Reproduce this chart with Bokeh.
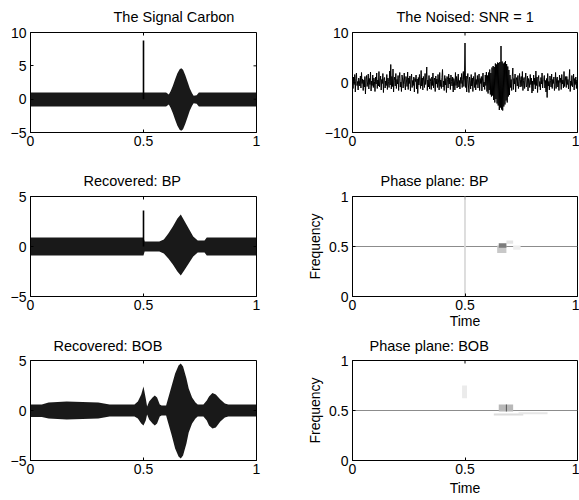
import numpy as np
from bokeh.plotting import figure
from bokeh.models import FixedTicker, Range1d
from bokeh.layouts import column, row
from bokeh.embed import file_html
from bokeh.resources import INLINE

FONT = "Liberation Sans"

# ---------------- data ----------------
x_ticks = [0, 0.5, 1]

# Panel 1: The Signal Carbon (envelope of the dense oscillation)
carbon_t = [0, 0.60, 0.612, 0.62, 0.63, 0.64, 0.65, 0.66, 0.667, 0.675, 0.685, 0.695, 0.705, 0.715, 0.722, 0.735, 0.745, 1]
carbon_hi = [1.0, 1.0, 0.7, 1.2, 2.0, 3.0, 3.9, 4.5, 4.65, 4.4, 3.6, 2.6, 1.6, 0.9, 0.5, 0.6, 1.0, 1.0]
carbon_lo = [-1.1, -1.1, -0.8, -1.3, -2.1, -3.1, -4.0, -4.6, -4.75, -4.5, -3.7, -2.7, -1.7, -1.0, -0.6, -0.7, -1.1, -1.1]
carbon_spike_t = [0.5]
carbon_spike_v = [8.8]

# Panel 2: The Noised signal (sampled every 0.0025)
noised = [
    0.3, -1.2, 1.1, -0.4, 1.6, -1.9, 0.8, 1.9, -0.6, 0.2,
    -1.5, 0.9, 0.4, -0.7, 1.3, -1.1, 2.0, -0.2, 0.7, -1.6,
    0.5, -0.9, 1.2, -2.3, 0.6, 1.4, -0.8, 0.1, 1.7, -1.3,
    0.8, -0.4, 2.1, -1.7, 0.3, -0.6, 1.5, -1.0, 0.9, 0.2,
    -1.8, 1.1, -0.3, 1.9, -1.2, 0.5, -0.7, 2.2, -0.9, 0.4,
    1.3, -1.5, 0.6, -0.2, 1.8, -2.0, 0.7, 1.0, -1.1, 0.3,
    -0.6, 1.6, -1.4, 0.9, 0.2, -1.0, 2.3, -0.5, 3.6, -1.3,
    1.2, -0.8, 2.7, -1.9, 0.4, 1.1, -0.7, 1.8, -1.2, 0.6,
    -0.3, 1.4, -1.6, 0.8, 2.0, -0.9, 0.1, -1.8, 1.5, 0.7,
    -1.1, 0.5, 1.9, -0.4, -1.5, 1.2, 0.3, -0.8, 2.1, -1.4,
    0.9, -0.2, 1.3, -1.7, 0.6, 1.7, -1.0, 0.4, -0.6, 1.1,
    -1.9, 0.8, 0.2, 1.5, -1.3, 0.7, -2.2, 1.0, -0.5, 1.6,
    0.1, -1.2, 2.4, -0.7, 0.9, -1.5, 1.2, 0.3, -1.0, 1.8,
    -0.4, 0.6, 3.1, -1.6, 0.5, -0.9, 1.4, -1.3, 0.8, 0.2,
    -1.4, 1.1, -0.6, 1.9, -1.1, 0.4, 0.9, -1.8, 1.3, -0.3,
    0.7, -1.0, 1.6, 0.1, -1.5, 2.0, -0.8, 0.5, -1.2, 1.0,
    2.6, -0.9, 0.3, -1.6, 1.4, -0.5, 0.8, -2.0, 1.2, 0.6,
    -1.1, 1.7, -0.3, 0.9, -1.4, 1.5, 0.2, -0.7, 1.1, -1.9,
    0.8, 0.3, -1.5, 2.0, -0.6, 1.2, -1.1, 0.5, 1.7, -0.9,
    0.4, -1.3, 1.0, -0.2, 1.8, -1.0, 0.6, 2.2, -0.8, 0.9,
    7.9, -1.0, 1.3, -1.9, 0.6, 1.8, -0.5, -2.0, 1.1, 0.4,
    -1.3, 1.6, -0.7, 0.9, -1.8, 1.2, 0.2, -1.0, 2.0, -1.5,
    0.6, -0.4, 1.4, -1.1, 0.3, 1.7, -1.6, 0.8, -0.2, 1.2,
    -1.7, 0.5, 1.9, -0.9, 0.1, -1.4, 1.5, -0.6, 2.1, -1.8,
    1.4, -2.2, 2.0, -1.5, 2.6, -2.4, 1.9, -2.8, 3.0, -2.6,
    3.3, -3.5, 3.1, -4.0, 3.8, -3.3, 3.6, -4.2, 4.0, -4.6,
    3.9, -5.5, 4.1, -5.0, 7.3, -5.4, 4.2, -5.6, 3.8, -4.8,
    4.0, -4.4, 4.3, -3.6, 3.7, -4.0, 3.2, -2.8, 2.5, -2.5,
    1.5, -1.0, 0.6, -1.6, 1.2, 2.9, -1.4, 0.8, -0.3, 1.7,
    -1.9, 0.5, 1.0, -0.7, 1.4, -1.2, 0.2, 1.8, -0.9, 0.6,
    1.2, -0.8, 2.2, -1.6, 0.4, 1.0, -1.2, 0.7, 1.9, -0.9,
    -0.5, 1.3, -1.7, 0.8, 0.3, -1.0, 1.6, -0.4, 0.9, -2.1,
    0.3, -1.7, 1.5, -0.4, 0.9, -1.3, 2.3, -0.6, 1.1, -2.0,
    0.7, 1.4, -0.8, 0.2, -1.5, 1.0, -0.3, 1.9, -1.1, 0.5,
    0.6, 1.4, -1.1, 0.4, -1.9, 0.8, -3.0, 1.8, -0.7, 0.2,
    -1.5, 1.3, 0.4, -0.9, 1.7, -1.2, 0.6, -0.2, 1.1, -1.6,
    -0.5, 2.0, -1.2, 0.7, 1.1, -0.9, 0.4, -1.6, 1.5, 0.0,
    0.9, -1.4, 1.6, -0.3, 0.5, -1.1, 2.2, -0.8, 0.3, 1.2,
    -1.0, 1.2, -0.4, 0.6, -1.3, 0.5, 2.6, -1.8, 0.3, -0.6,
    1.4, -0.9, 0.2, 1.7, -1.5, 0.8, -0.4, 1.1, -1.2, 0.5,
    -0.9,
]
noised_t = np.linspace(0, 1, len(noised))

# Panel 3: Recovered BP (envelope)
bp_t = [0, 0.5, 0.505, 0.57, 0.59, 0.61, 0.63, 0.65, 0.665, 0.68, 0.70, 0.72, 0.74, 0.77, 0.78, 1]
bp_hi = [0.9, 0.9, 0.5, 0.5, 0.7, 1.3, 2.0, 2.8, 3.2, 2.6, 1.8, 1.0, 0.6, 0.6, 0.9, 0.9]
bp_lo = [-0.9, -0.9, -0.5, -0.5, -0.7, -1.2, -1.8, -2.5, -2.9, -2.4, -1.7, -1.0, -0.6, -0.6, -0.9, -0.9]
bp_spike_t = [0.5]
bp_spike_v = [3.6]

# Panel 5: Recovered BOB (envelope)
bob_t = [0, 0.05, 0.08, 0.16, 0.30, 0.35, 0.46, 0.475, 0.49, 0.50, 0.51, 0.516, 0.525, 0.54, 0.55, 0.56,
         0.572, 0.58, 0.60, 0.61, 0.625, 0.64, 0.655, 0.665, 0.675, 0.69, 0.70, 0.715, 0.73, 0.74, 0.765,
         0.78, 0.79, 0.805, 0.82, 0.84, 0.86, 0.875, 1]
bob_hi = [0.6, 0.6, 0.8, 0.9, 0.8, 0.6, 0.6, 0.9, 1.6, 2.4, 1.2, 0.4, 0.9, 1.3, 1.5, 1.3,
          0.6, 0.5, 0.5, 1.3, 2.5, 3.7, 4.5, 4.7, 4.4, 3.2, 2.2, 1.3, 0.8, 0.6, 0.6,
          1.0, 1.4, 1.75, 1.6, 1.1, 0.7, 0.6, 0.6]
bob_lo = [-0.65, -0.65, -0.8, -0.9, -0.8, -0.6, -0.6, -0.8, -1.3, -1.5, -1.0, -0.4, -0.9, -1.3, -1.5, -1.3,
          -0.6, -0.5, -0.5, -1.3, -2.5, -3.8, -4.6, -4.8, -4.5, -3.3, -2.2, -1.3, -0.8, -0.6, -0.6,
          -1.0, -1.5, -1.8, -1.7, -1.1, -0.7, -0.6, -0.6]

# Panel 4: Phase plane BP (tiles)
pp_bp_t0 = [0.643, 0.684, 0.714, 0.650]
pp_bp_t1 = [0.684, 0.714, 0.747, 0.684]
pp_bp_f0 = [0.435, 0.527, 0.467, 0.487]
pp_bp_f1 = [0.510, 0.560, 0.510, 0.533]
pp_bp_col = ["#c8c8c8", "#e4e4e4", "#eeeeee", "#7c7c7c"]

# Panel 6: Phase plane BOB (tiles)
pp_bob_t0 = [0.487, 0.650]
pp_bob_t1 = [0.509, 0.714]
pp_bob_f0 = [0.623, 0.490]
pp_bob_f1 = [0.750, 0.560]
pp_bob_col = ["#ebebeb", "#b8b8b8"]
pp_bob_line_t0 = [0.628, 0.738]
pp_bob_line_t1 = [0.759, 0.867]
pp_bob_line_f = [0.460, 0.473]
pp_bob_line_col = ["#dcdcdc", "#e6e6e6"]
pp_bob_vt = [0.684]
pp_bob_vf0 = [0.490]
pp_bob_vf1 = [0.560]

MINUS = "\u2212"


def make_fig(w, h, ml, mr, mt, mb, yr, yticks, title, toff, xlabel=None, ylabel=None,
             title_standoff=12, xlabel_standoff=0):
    p = figure(width=w, height=h, x_range=Range1d(0, 1), y_range=Range1d(*yr),
               toolbar_location=None, output_backend="svg",
               min_border_left=ml, min_border_right=mr,
               min_border_top=mt, min_border_bottom=mb, title=title)
    p.grid.visible = False
    p.background_fill_color = "white"
    p.border_fill_color = "white"
    p.outline_line_color = "black"
    p.outline_line_alpha = 1
    p.title.text_font = FONT
    p.title.text_font_size = "14.5px"
    p.title.text_font_style = "normal"
    p.title.text_color = "black"
    p.title.align = "left"
    p.title.vertical_align = "top"
    p.title.offset = toff
    p.title.standoff = title_standoff

    overrides = {t: (MINUS + ("%g" % abs(t)) if t < 0 else ("%g" % t)) for t in yticks}
    for ax, ticks, ov in ((p.xaxis[0], x_ticks, {0: "0", 0.5: "0.5", 1: "1"}), (p.yaxis[0], yticks, overrides)):
        ax.ticker = FixedTicker(ticks=ticks)
        ax.major_label_overrides = ov
        ax.major_tick_in = 3
        ax.major_tick_out = 0
        ax.minor_tick_in = 0
        ax.minor_tick_out = 0
        ax.axis_line_color = "black"
        ax.major_tick_line_color = "black"
        ax.major_label_text_font = FONT
        ax.major_label_text_font_size = "14px"
        ax.major_label_text_color = "black"
        ax.axis_label_text_font = FONT
        ax.axis_label_text_font_size = "14px"
        ax.axis_label_text_font_style = "normal"
        ax.axis_label_text_color = "black"
        ax.axis_label_standoff = 3
    p.xaxis[0].axis_label_standoff = xlabel_standoff
    p.xaxis[0].major_label_standoff = 3
    p.yaxis[0].major_label_standoff = 4
    if xlabel:
        p.xaxis[0].axis_label = xlabel
    if ylabel:
        p.yaxis[0].axis_label = ylabel

    # inward ticks on the top and right edges of the box
    p.ray(x=x_ticks, y=[yr[1]] * len(x_ticks), length=3, length_units="screen",
          angle=-np.pi / 2, line_color="black", line_width=1)
    p.ray(x=[1] * len(yticks), y=yticks, length=3, length_units="screen",
          angle=np.pi, line_color="black", line_width=1)
    return p


LW, RW = 276, 303
LML, LMR = 30, 20
RML, RMR = 76, 2
BAND_ALPHA = 0.9

# Row 1
p1 = make_fig(LW, 164, LML, LMR, 32, 32, (-5, 10), [-5, 0, 5, 10], "The Signal Carbon", 83)
p1.varea(x=carbon_t, y1=carbon_lo, y2=carbon_hi, fill_color="black", fill_alpha=BAND_ALPHA)
p1.segment(x0=carbon_spike_t, y0=[0] * len(carbon_spike_t), x1=carbon_spike_t, y1=carbon_spike_v,
           line_color="black", line_width=1.6)

p2 = make_fig(RW, 164, RML, RMR, 32, 32, (-10, 10), [-10, 0, 10], "The Noised: SNR = 1", 44)
p2.line(noised_t, noised, line_color="black", line_width=1)

# Row 2
p3 = make_fig(LW, 168, LML, LMR, 32, 36, (-5, 5), [-5, 0, 5], "Recovered: BP", 53)
p3.varea(x=bp_t, y1=bp_lo, y2=bp_hi, fill_color="black", fill_alpha=BAND_ALPHA)
p3.segment(x0=bp_spike_t, y0=[0] * len(bp_spike_t), x1=bp_spike_t, y1=bp_spike_v,
           line_color="black", line_width=1.6)

p4 = make_fig(RW, 168, RML, RMR, 32, 36, (0, 1), [0, 0.5, 1], "Phase plane: BP", 28,
              xlabel="Time", ylabel="Frequency")
p4.segment(x0=[0], y0=[0.5], x1=[1], y1=[0.5], line_color="#8c8c8c", line_width=1)
p4.segment(x0=[0.5], y0=[0], x1=[0.5], y1=[1], line_color="#d8d8d8", line_width=1.7)
p4.quad(left=pp_bp_t0, right=pp_bp_t1, bottom=pp_bp_f0, top=pp_bp_f1,
        fill_color=pp_bp_col, line_color=None)

# Row 3
p5 = make_fig(LW, 168, LML, LMR, 28, 40, (-5, 5), [-5, 0, 5], "Recovered: BOB", 23, title_standoff=9)
p5.varea(x=bob_t, y1=bob_lo, y2=bob_hi, fill_color="black", fill_alpha=BAND_ALPHA)

p6 = make_fig(RW, 168, RML, RMR, 28, 40, (0, 1), [0, 0.5, 1], "Phase plane: BOB", 17,
              xlabel="Time", ylabel="Frequency", title_standoff=9, xlabel_standoff=3)
p6.segment(x0=[0], y0=[0.5], x1=[1], y1=[0.5], line_color="#8c8c8c", line_width=1)
p6.quad(left=pp_bob_t0, right=pp_bob_t1, bottom=pp_bob_f0, top=pp_bob_f1,
        fill_color=pp_bob_col, line_color=None)
p6.segment(x0=pp_bob_line_t0, y0=pp_bob_line_f, x1=pp_bob_line_t1, y1=pp_bob_line_f,
           line_color=pp_bob_line_col, line_width=2)
p6.segment(x0=pp_bob_vt, y0=pp_bob_vf0, x1=pp_bob_vt, y1=pp_bob_vf1, line_color="#555555", line_width=1)

layout = column(row(p1, p2), row(p3, p4), row(p5, p6))
open("out.html", "w").write(file_html(layout, INLINE))
